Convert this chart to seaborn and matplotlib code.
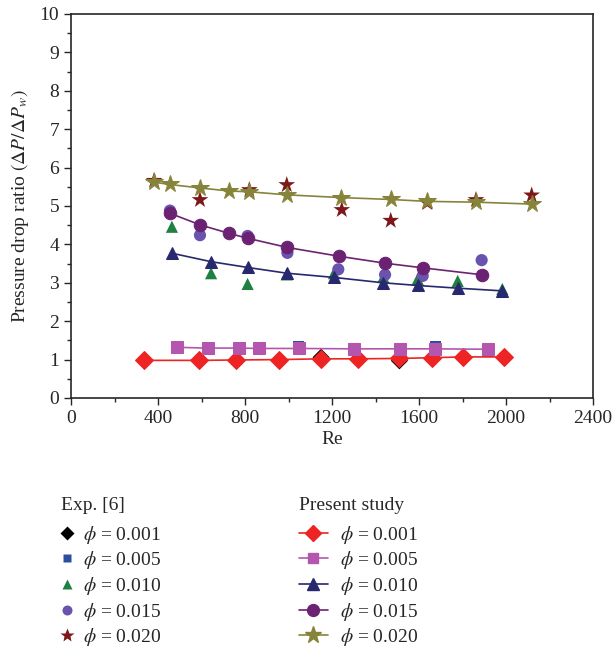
import matplotlib
matplotlib.use("Agg")
import matplotlib.pyplot as plt
import seaborn as sns
import numpy as np
import pandas as pd

# ---------------- data ----------------
# Present study (lines + markers)
ps_re_001 = [336, 590, 759, 955, 1148, 1321, 1510, 1658, 1804, 1993]
ps_v_001 = [0.98, 0.98, 0.99, 1.00, 1.02, 1.02, 1.03, 1.05, 1.07, 1.07]
ps_re_005 = [486, 628, 774, 866, 1047, 1303, 1513, 1674, 1916]
ps_v_005 = [1.32, 1.30, 1.30, 1.29, 1.29, 1.28, 1.28, 1.28, 1.27]
ps_re_010 = [464, 644, 812, 992, 1209, 1436, 1594, 1778, 1983]
ps_v_010 = [3.77, 3.55, 3.40, 3.25, 3.14, 3.00, 2.93, 2.86, 2.79]
ps_re_015 = [455, 593, 725, 812, 995, 1234, 1444, 1617, 1888]
ps_v_015 = [4.81, 4.51, 4.29, 4.16, 3.92, 3.69, 3.51, 3.39, 3.21]
ps_re_020 = [382, 455, 593, 728, 820, 995, 1240, 1470, 1638, 1862, 2118]
ps_v_020 = [5.62, 5.56, 5.47, 5.39, 5.37, 5.29, 5.22, 5.17, 5.12, 5.10, 5.05]

# Exp. [6] (markers only)
ex_re_001 = [1150, 1510]
ex_v_001 = [1.06, 0.97]
ex_re_005 = [774, 1047, 1303, 1513, 1674, 1916]
ex_v_005 = [1.25, 1.35, 1.23, 1.23, 1.34, 1.21]
ex_re_010 = [464, 644, 812, 992, 1209, 1436, 1594, 1778, 1983]
ex_v_010 = [4.46, 3.25, 2.97, 3.22, 3.25, 3.15, 3.10, 3.05, 2.84]
ex_re_015 = [455, 593, 812, 995, 1229, 1444, 1617, 1888]
ex_v_015 = [4.88, 4.24, 4.22, 3.78, 3.35, 3.21, 3.18, 3.59]
ex_re_020 = [382, 593, 820, 992, 1245, 1470, 1638, 1862, 2118]
ex_v_020 = [5.66, 5.16, 5.42, 5.55, 4.90, 4.62, 5.08, 5.16, 5.28]

phi_labels = ["0.001", "0.005", "0.010", "0.015", "0.020"]
x_ticks = [0, 400, 800, 1200, 1600, 2000, 2400]
y_ticks = list(range(0, 11))

# ---------------- style ----------------
sns.set_style("ticks")
plt.rcParams["font.family"] = ["Liberation Serif", "DejaVu Serif"]
plt.rcParams["mathtext.fontset"] = "stix"
FS = 14
plt.rcParams["font.size"] = FS

fig = plt.figure(figsize=(6.13, 6.5), dpi=100)
ax = fig.add_axes([71 / 613, 1 - 398 / 650, (593 - 71) / 613, (398 - 14) / 650])

ps_colors = ["#EE2424", "#B556AE", "#27286E", "#6C2272", "#86843A"]
ex_colors = ["#000000", "#2B4EA2", "#1E8041", "#6953AE", "#7D1719"]
markers = ["D", "s", "^", "o", "*"]
msizes = [9, 8, 9, 9, 13]

ps = [(ps_re_001, ps_v_001), (ps_re_005, ps_v_005), (ps_re_010, ps_v_010),
      (ps_re_015, ps_v_015), (ps_re_020, ps_v_020)]
ex = [(ex_re_001, ex_v_001), (ex_re_005, ex_v_005), (ex_re_010, ex_v_010),
      (ex_re_015, ex_v_015), (ex_re_020, ex_v_020)]

ex_handles = []
for i, (xr, yv) in enumerate(ex):
    df = pd.DataFrame({"Re": xr, "v": yv})
    sns.scatterplot(data=df, x="Re", y="v", ax=ax, marker=markers[i],
                    color=ex_colors[i], s=msizes[i] ** 2 * 0.95, edgecolor="none",
                    zorder=2, legend=False)
    ex_handles.append(plt.Line2D([], [], ls="none", marker=markers[i], color=ex_colors[i],
                                 markersize=msizes[i] * 0.8, markeredgecolor="none"))

ps_handles = []
for i, (xr, yv) in enumerate(ps):
    df = pd.DataFrame({"Re": xr, "v": yv})
    sns.lineplot(data=df, x="Re", y="v", ax=ax, marker=markers[i], color=ps_colors[i],
                 markersize=msizes[i], markeredgecolor=ps_colors[i], linewidth=1.2,
                 zorder=3, legend=False)
    ps_handles.append(plt.Line2D([], [], marker=markers[i], color=ps_colors[i],
                                 markersize=msizes[i] * 0.95, markeredgecolor=ps_colors[i],
                                 linewidth=1.2))

ax.set_xlim(0, 2400)
ax.set_ylim(0, 10)
ax.set_xticks(x_ticks)
ax.set_yticks(y_ticks)
ax.set_xticks(np.arange(200, 2400, 400), minor=True)
ax.set_yticks(np.arange(0.5, 10, 1), minor=True)
ax.tick_params(axis="both", which="major", length=5, width=1, direction="out", labelsize=FS)
ax.tick_params(axis="both", which="minor", length=3, width=1, direction="out")
for s in ax.spines.values():
    s.set_linewidth(1.2)
    s.set_visible(True)
ax.set_xlabel("Re", fontsize=FS, labelpad=3)
ax.set_ylabel(r"Pressure drop ratio $(\Delta P/\Delta P_w)$", fontsize=FS, labelpad=6)

labels = [r"$\phi$ = " + p for p in phi_labels]
leg1 = fig.legend(ex_handles, labels, title="Exp. [6]", loc="upper left",
                  bbox_to_anchor=(53 / 613, 1 - 489 / 650), frameon=False,
                  fontsize=FS, title_fontsize=FS, handlelength=0.6, handletextpad=0.55,
                  labelspacing=0.19, borderaxespad=0)
leg1._legend_box.align = "left"
leg1._legend_box.sep = 7
leg2 = fig.legend(ps_handles, labels, title="Present study", loc="upper left",
                  bbox_to_anchor=(291 / 613, 1 - 489 / 650), frameon=False,
                  fontsize=FS, title_fontsize=FS, handlelength=1.5, handletextpad=0.6,
                  labelspacing=0.19, borderaxespad=0)
leg2._legend_box.align = "left"
leg2._legend_box.sep = 7

fig.savefig("out.png", dpi=100)
